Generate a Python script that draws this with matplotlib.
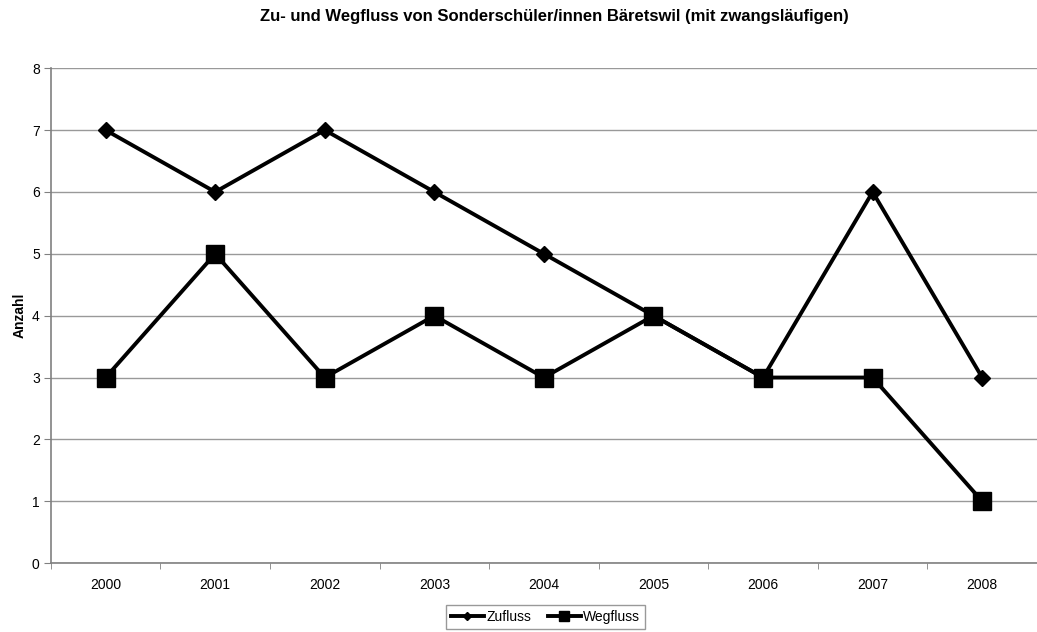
import matplotlib.pyplot as plt
import numpy as np

years = ['2000', '2001', '2002', '2003', '2004', '2005', '2006', '2007', '2008']
zufluss = [7, 6, 7, 6, 5, 4, 3, 6, 3]
wegfluss = [3, 5, 3, 4, 3, 4, 3, 3, 1]

plt.rcParams['font.family'] = ['Liberation Sans', 'DejaVu Sans']

fig = plt.figure(figsize=(10.37, 6.32), dpi=100)
ax = fig.add_axes([0.049, 0.109, 0.951, 0.783])

x = np.arange(len(years))
ax.plot(x, zufluss, color='black', linewidth=2.8, marker='D', markersize=8, label='Zufluss')
ax.plot(x, wegfluss, color='black', linewidth=2.8, marker='s', markersize=13, label='Wegfluss')

ax.set_xlim(-0.5, len(years) - 0.5)
ax.set_ylim(0, 8)
ax.set_yticks(range(0, 9))
ax.set_xticks(x)
ax.set_xticklabels(years, fontsize=10)
ax.set_xticks(np.arange(-0.5, len(years)), minor=True)
ax.tick_params(axis='x', which='major', length=0, pad=11)
ax.tick_params(axis='x', which='minor', length=4, color='#808080')
ax.tick_params(axis='y', length=5, color='#808080', labelsize=10, pad=3)

ax.grid(axis='y', color='#999999', linewidth=1)
ax.set_axisbelow(True)
for s in ['top', 'right']:
    ax.spines[s].set_visible(False)
for s in ['left', 'bottom']:
    ax.spines[s].set_color('#808080')
    ax.spines[s].set_linewidth(1.2)

ax.set_ylabel('Anzahl', fontsize=10, fontweight='bold', labelpad=4)
fig.suptitle('Zu- und Wegfluss von Sonderschüler/innen Bäretswil (mit zwangsläufigen)',
             fontsize=12, fontweight='bold', y=0.985, x=0.535)

leg = fig.legend(loc='center', bbox_to_anchor=(0.526, 0.024), ncol=2, fontsize=10,
                 frameon=True, fancybox=False, edgecolor='#808080', handlelength=2.4,
                 markerscale=0.55, columnspacing=1.2, handletextpad=0.15, borderpad=0.35)

plt.savefig('out.png', dpi=100, facecolor='white')
